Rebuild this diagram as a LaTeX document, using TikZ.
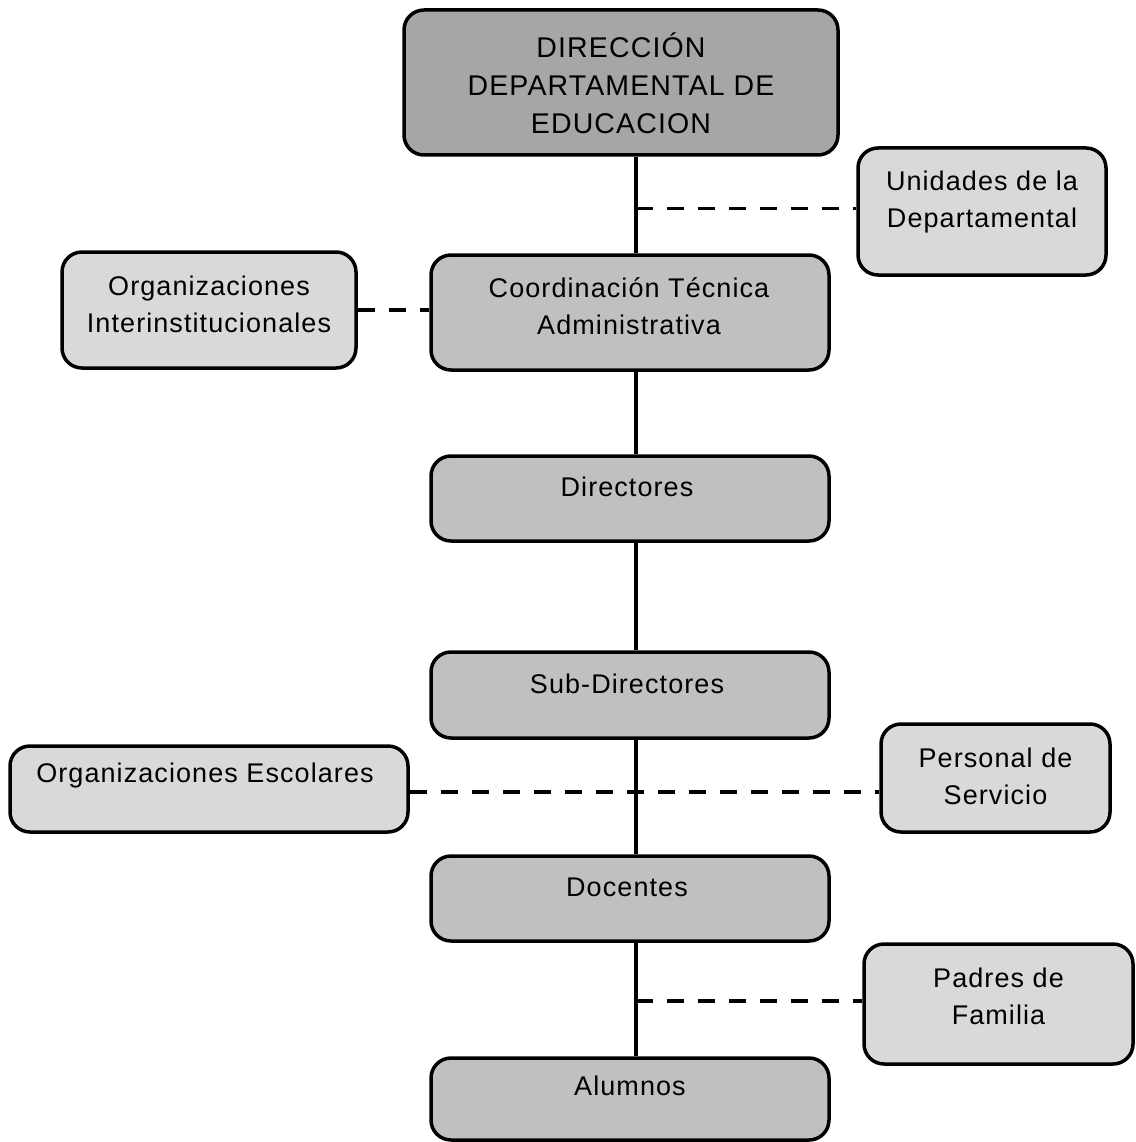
\documentclass[tikz,border=0pt]{standalone}
\usepackage{fontspec}
\setmainfont{Liberation Sans}[LetterSpace=4]
\usetikzlibrary{calc}
\definecolor{gTop}{HTML}{A6A6A6}
\definecolor{gMain}{HTML}{C0C0C0}
\definecolor{gSide}{HTML}{D9D9D9}
\tikzset{
  box/.style={draw=black, line width=3.5pt, rounded corners=20pt, inner sep=0pt},
  topbox/.style={box, fill=gTop},
  mainbox/.style={box, fill=gMain, minimum width=398pt},
  sidebox/.style={box, fill=gSide},
  txt/.style={align=center, inner sep=0pt, font=\fontsize{27}{37}\selectfont, text=black},
  bigtxt/.style={txt, font=\fontsize{28.5}{38}\selectfont},
  link/.style={line width=3.5pt},
  dlink/.style={line width=3.5pt, dash pattern=on 17pt off 14pt},
}
\begin{document}
\begin{tikzpicture}[x=1pt,y=-1pt]
\useasboundingbox (0,0) rectangle (1135,1142);
\coordinate (tx) at (636,0);
% boxes
\node[topbox, minimum width=434pt, minimum height=145pt] (dir) at (621,82.5) {};
\node[sidebox, minimum width=248pt, minimum height=127pt] (uni) at (982,211.5) {};
\node[mainbox, minimum height=115pt] (coord) at (630,312.5) {};
\node[sidebox, minimum width=294pt, minimum height=116pt] (orgi) at (209,310) {};
\node[mainbox, minimum height=85pt] (dirs) at (630,498.5) {};
\node[mainbox, minimum height=86pt] (sub) at (630,695) {};
\node[sidebox, minimum width=398pt, minimum height=86pt] (orge) at (209,789) {};
\node[sidebox, minimum width=229pt, minimum height=108pt] (pers) at (995.5,778) {};
\node[mainbox, minimum height=85pt] (doc) at (630,898.5) {};
\node[sidebox, minimum width=269pt, minimum height=120pt] (pad) at (998.5,1004) {};
\node[mainbox, minimum height=82pt] (alum) at (630,1099) {};
% texts
\node[bigtxt] (tdir) at (621,83) {DIRECCIÓN\\DEPARTAMENTAL DE\\EDUCACION};
\node[txt] (tuni) at (982,202) {Unidades de la\\Departamental};
\node[txt] (tcoord) at (629,306) {Coordinación Técnica\\Administrativa};
\node[txt] (torgi) at (209,304) {Organizaciones\\Interinstitucionales};
\node[txt] (tdirs) at (627,487) {Directores};
\node[txt] (tsub) at (627,684) {Sub-Directores};
\node[txt] (torge) at (205,776) {Organizaciones Escolares};
\node[txt] (tpers) at (995.5,776) {Personal de\\Servicio};
\node[txt] (tdoc) at (627,887) {Docentes};
\node[txt] (tpad) at (998.5,996) {Padres de\\Familia};
\node[txt] (talum) at (630,1086) {Alumnos};
% trunk
\draw[link] (tx |- dir.south) -- (tx |- coord.north);
\draw[link] (tx |- coord.south) -- (tx |- dirs.north);
\draw[link] (tx |- dirs.south) -- (tx |- sub.north);
\draw[link] (tx |- sub.south) -- (tx |- doc.north);
\draw[link] (tx |- doc.south) -- (tx |- alum.north);
% dashed links
\draw[dlink] ($(tx |- uni.west)+(0,-3)$) -- ($(uni.west)+(0,-3)$);
\draw[dlink] (orgi.east) -- (orgi.east -| coord.west);
\draw[dlink] ($(orge.east)+(0,3)$) -- ($(orge.east -| pers.west)+(0,3)$);
\draw[dlink] ($(tx |- pad.west)+(0,-3)$) -- ($(pad.west)+(0,-3)$);
\end{tikzpicture}
\end{document}
